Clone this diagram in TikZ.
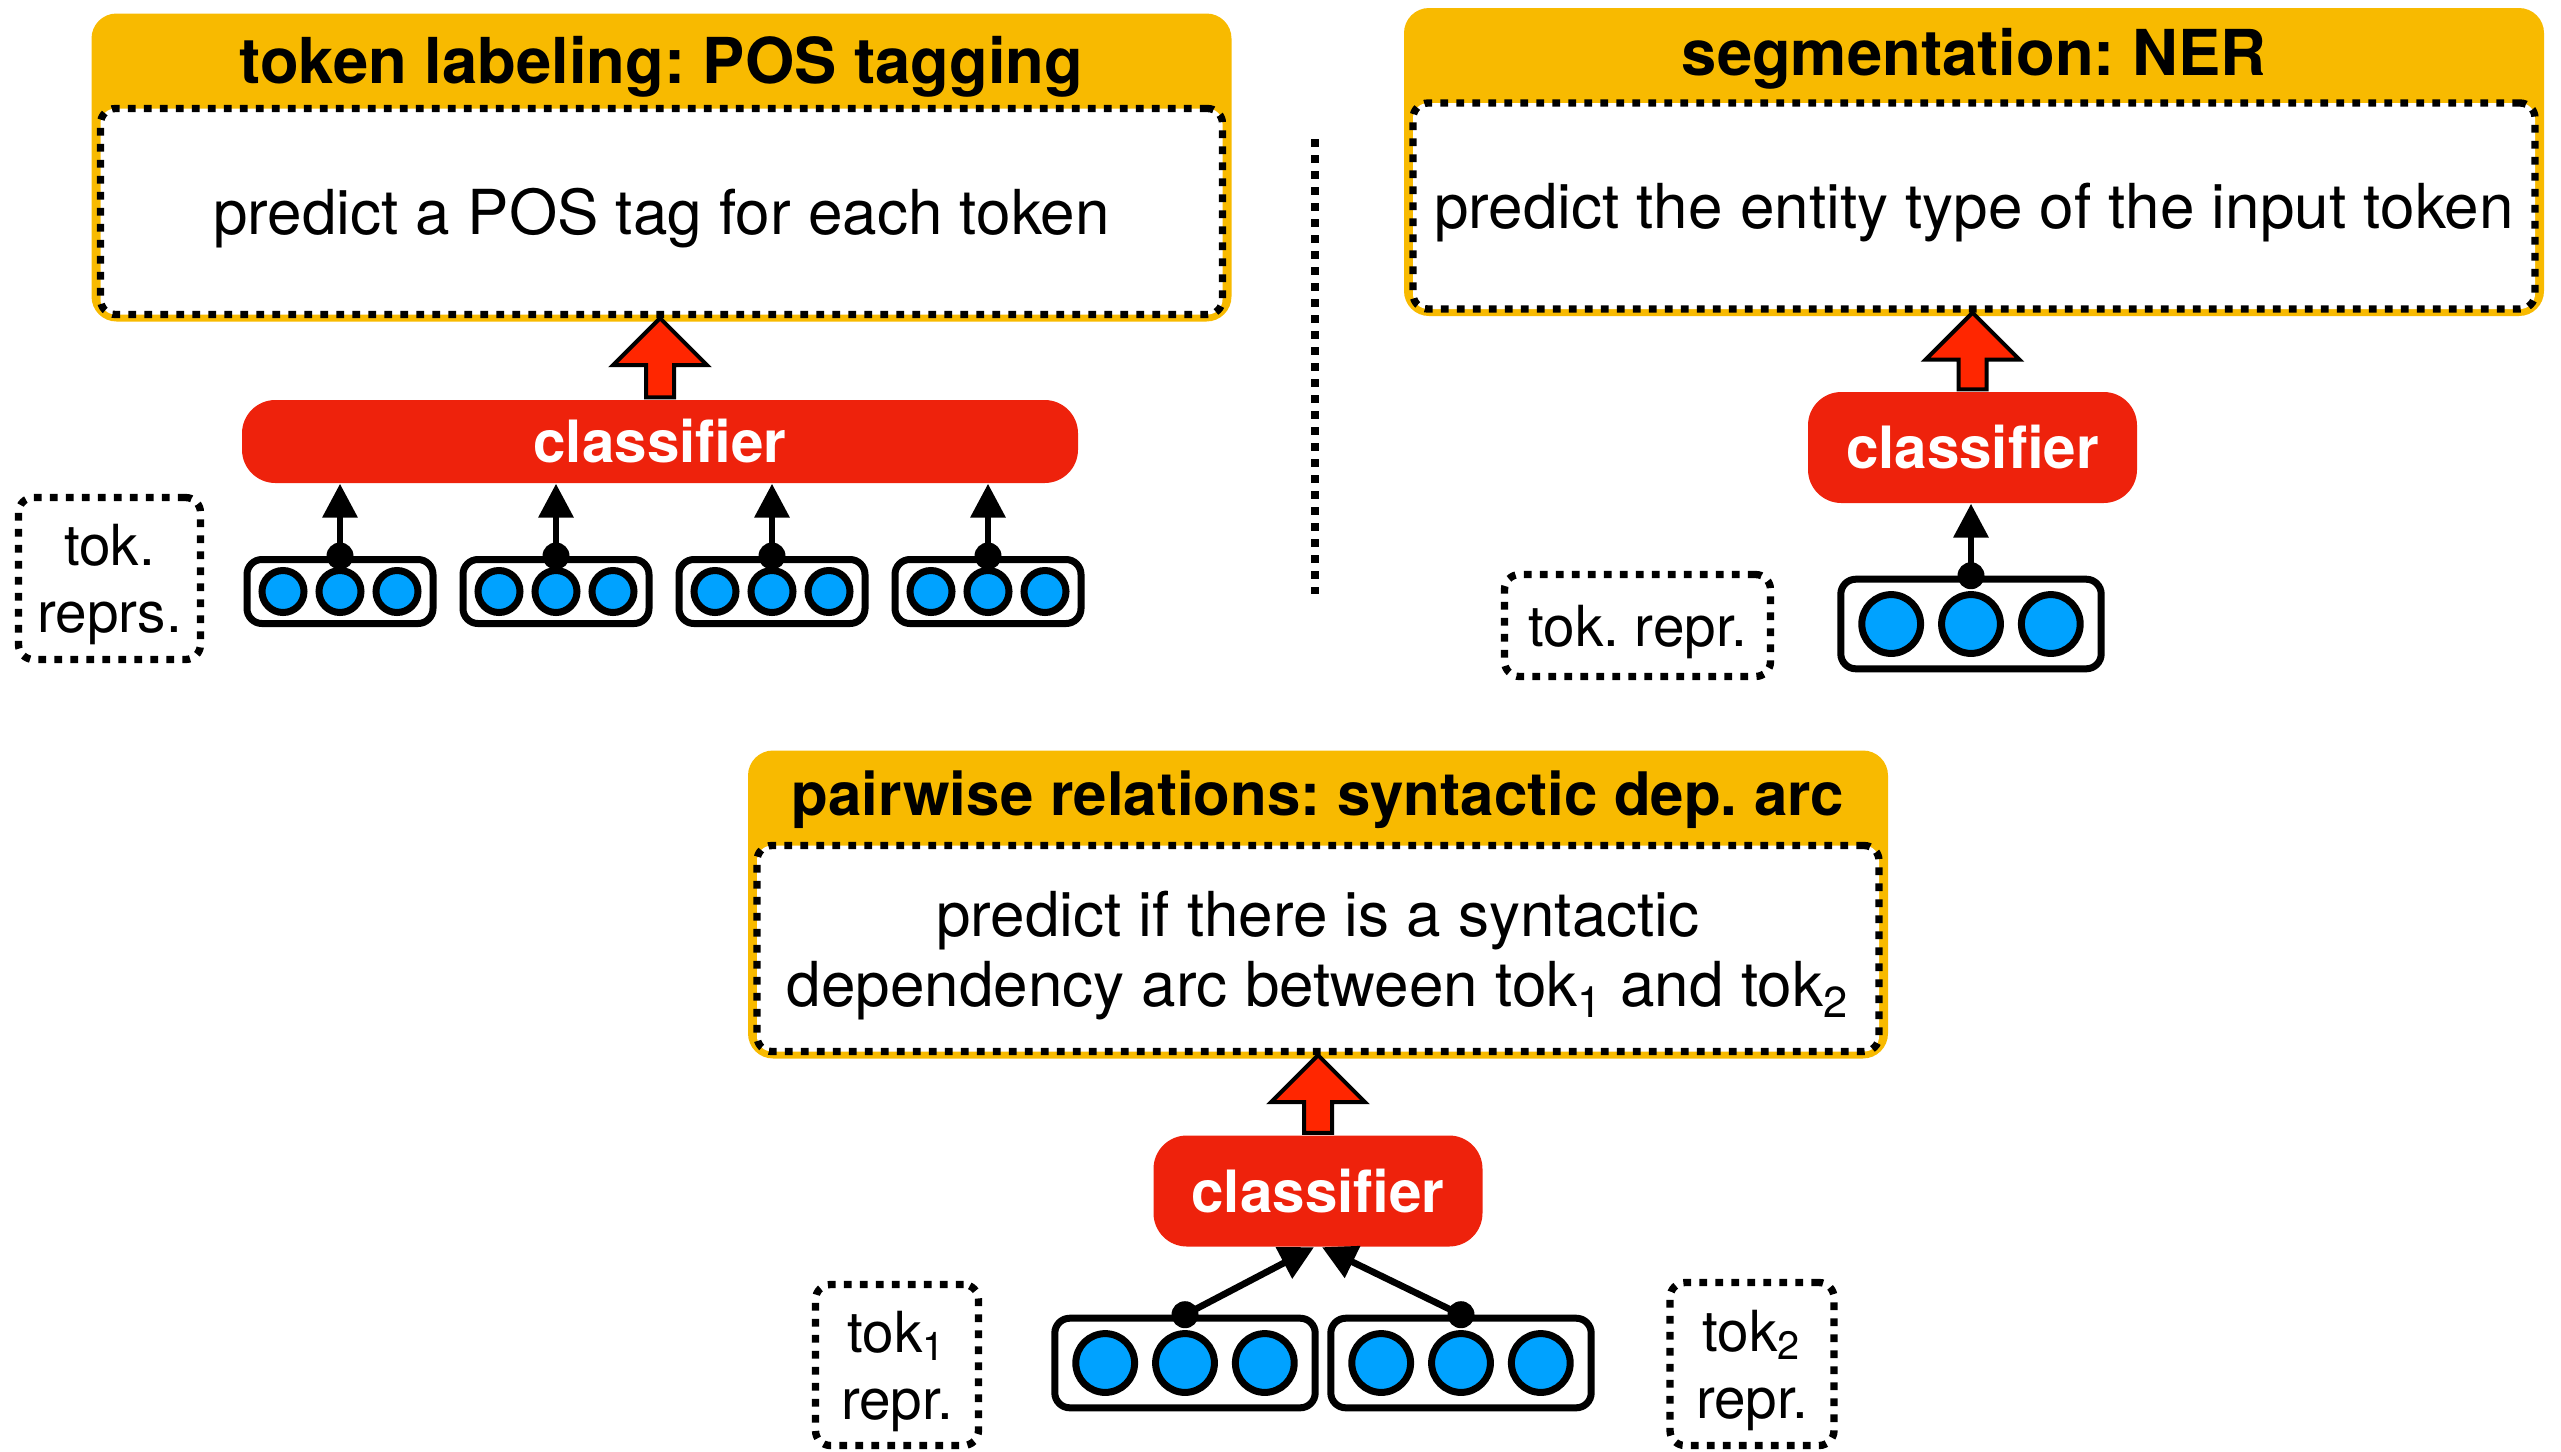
\documentclass[tikz,border=0pt]{standalone}
\usepackage{fontspec}
\setmainfont{TeX Gyre Heros}
\frenchspacing
\usetikzlibrary{arrows.meta, calc}

\definecolor{hdrorange}{HTML}{F8BA00}
\definecolor{clsred}{HTML}{EE220C}
\definecolor{liftred}{HTML}{FF2600}
\definecolor{neuronblue}{HTML}{00A2FF}

\tikzset{
  dotborder/.style={line width=2.2pt, dash pattern=on 2.3pt off 2.5pt},
  hdr/.style={fill=hdrorange, rounded corners=7.5pt, minimum width=342pt, minimum height=92.4pt, inner sep=0pt},
  taskbox/.style={draw, dotborder, fill=white, rounded corners=4.5pt, minimum width=336.6pt, minimum height=61.8pt,
    align=center, inner sep=0pt, text depth=0pt, font=\fontsize{18.6pt}{21pt}\selectfont},
  tasktitle/.style={inner sep=0pt, text depth=0pt, font=\fontsize{19pt}{21pt}\selectfont\bfseries},
  cls/.style={fill=clsred, text=white, rounded corners=10pt, inner sep=0pt, font=\fontsize{17.5pt}{20pt}\selectfont\bfseries},
  reprbox/.style={draw, dotborder, rounded corners=4.5pt, align=center, inner sep=0pt, text depth=0pt, font=\fontsize{17pt}{20pt}\selectfont},
  vecbox/.style={draw, line width=2.1pt, rounded corners=4.5pt, fill=white, inner sep=0pt},
  neuron/.style={circle, draw, line width=2.1pt, fill=neuronblue, inner sep=0pt},
  joint/.style={circle, fill=black, minimum size=8.1pt, inner sep=0pt},
  feed/.style={line width=2pt, -{Triangle[length=10.2pt, width=10.2pt]}},
  lift/.style={draw, line width=1.2pt, fill=liftred, line join=miter},
}

% token vector: name, centre, size factor
\newcommand\tokvec[3]{%
  \node[vecbox, minimum width=55.8pt*#3, minimum height=19.2pt*#3] (#1) at (#2) {};
  \node[neuron, minimum size=12.6pt*#3] (#1-1) at ($(#1)+(-57*#3,0)$) {};
  \node[neuron, minimum size=12.6pt*#3] (#1-2) at (#1) {};
  \node[neuron, minimum size=12.6pt*#3] (#1-3) at ($(#1)+(57*#3,0)$) {};
  \node[joint] (#1-top) at (#1.north) {};
}

% red block arrow from classifier to task box
\newcommand\liftarrow[2]{%
  \path[lift] let \p1=(#1.north), \p2=(#2.south) in
    (\x1-4.2pt,\y1+0.6pt) -- (\x1-4.2pt,\y2-14.1pt) -- (\x1-14.1pt,\y2-14.1pt) -- (\x1,\y2)
    -- (\x1+14.1pt,\y2-14.1pt) -- (\x1+4.2pt,\y2-14.1pt) -- (\x1+4.2pt,\y1+0.6pt) -- cycle;
}

\begin{document}
\begin{tikzpicture}[x=0.3pt, y=-0.3pt]
  \useasboundingbox (0,0) rectangle (2561,1451);

  % token labeling
  \node[hdr] (hdrA) at (661.5,167.5) {};
  \node[taskbox, anchor=south] (taskA) at ($(hdrA.south)+(0,-4)$) {predict a POS tag for each token};
  \node[tasktitle] (titleA) at ($(hdrA.north)+(0,47)$) {token labeling: POS tagging};
  \node[cls, minimum width=250.8pt, minimum height=24.9pt] (clsA) at (660,441.5) {classifier};
  \liftarrow{clsA}{taskA}
  \foreach \i/\x in {1/340,2/556,3/772,4/988} {
    \tokvec{vecA\i}{\x,591.5}{1}
    \draw[feed] (vecA\i-top.center) -- (vecA\i-top.center |- clsA.south);
  }
  \node[reprbox, minimum width=54.6pt, minimum height=48.6pt] (reprA) at (109.5,578.5) {tok.\\reprs.};

  \coordinate (sepTop) at (1315,139);
  \coordinate (sepBot) at (1315,594);
  \draw[dotborder] (sepTop) -- (sepBot);

  % segmentation
  \node[hdr] (hdrB) at (1974,162) {};
  \node[taskbox, anchor=south] (taskB) at ($(hdrB.south)+(0,-4)$) {predict the entity type of the input token};
  \node[tasktitle] (titleB) at ($(hdrB.north)+(0,45)$) {segmentation: NER};
  \node[cls, minimum width=98.7pt, minimum height=33.3pt] (clsB) at (1972.5,447.5) {classifier};
  \liftarrow{clsB}{taskB}
  \tokvec{vecB}{1971,624}{1.4}
  \draw[feed] (vecB-top.center) -- (vecB-top.center |- clsB.south);
  \node[reprbox, minimum width=79.8pt, minimum height=30.6pt] (reprB) at (1637.5,625.5) {tok. repr.};

  % pairwise relations
  \node[hdr] (hdrC) at (1318,904.5) {};
  \node[taskbox, anchor=south] (taskC) at ($(hdrC.south)+(0,-4)$) {predict if there is a syntactic\\dependency arc between tok\textsubscript{1} and tok\textsubscript{2}};
  \node[tasktitle, font=\fontsize{18pt}{21pt}\selectfont\bfseries] (titleC) at ($(hdrC.north)+(0,43)$) {pairwise relations: syntactic dep. arc};
  \node[cls, minimum width=98.7pt, minimum height=33.3pt] (clsC) at (1318,1191) {classifier};
  \liftarrow{clsC}{taskC}
  \tokvec{vecC1}{1185,1363}{1.4}
  \tokvec{vecC2}{1461,1363}{1.4}
  \draw[feed] (vecC1-top.center) -- ($(clsC.south)+(-4,0)$);
  \draw[feed] (vecC2-top.center) -- ($(clsC.south)+(4,0)$);
  \node[reprbox, minimum width=48.9pt, minimum height=48.3pt] (reprC1) at (897,1365) {tok\textsubscript{1}\\repr.};
  \node[reprbox, minimum width=49.2pt, minimum height=48.9pt] (reprC2) at (1752,1364) {tok\textsubscript{2}\\repr.};
\end{tikzpicture}
\end{document}
